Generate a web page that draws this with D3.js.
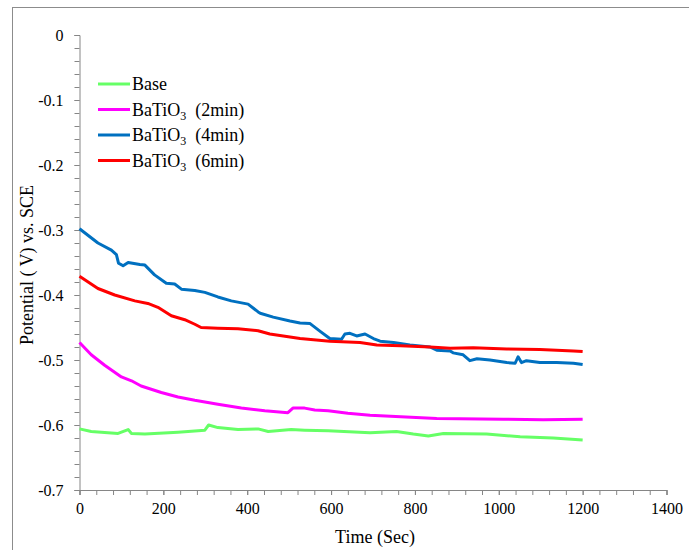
<!DOCTYPE html>
<html><head><meta charset="utf-8">
<script src="https://cdn.jsdelivr.net/npm/d3@7"></script>
<style>body{margin:0;background:#fff}svg{display:block}text{font-family:"Liberation Serif","Times New Roman",serif;fill:#000}</style>
</head><body><svg id="c" width="689" height="550"></svg>
<script>
const seriesNames = ["Base", "BaTiO3 (2min)", "BaTiO3 (4min)", "BaTiO3 (6min)"];
const seriesColors = ["#66ff66", "#ff00ff", "#0070c0", "#ff0000"];
const xTicks = [0, 200, 400, 600, 800, 1000, 1200, 1400];
const yTicks = [0, -0.1, -0.2, -0.3, -0.4, -0.5, -0.6, -0.7];
const baseData = [[0,-0.606],[28,-0.610],[92,-0.613],[116,-0.607],[124,-0.613],[156,-0.614],[235,-0.611],[299,-0.608],[308,-0.600],[330,-0.604],[378,-0.607],[426,-0.606],[450,-0.610],[505,-0.607],[537,-0.608],[593,-0.609],[693,-0.612],[756,-0.610],[796,-0.614],[832,-0.617],[868,-0.613],[971,-0.614],[1051,-0.618],[1130,-0.620],[1200,-0.623]];
const min2Data = [[0,-0.473],[28,-0.492],[60,-0.508],[100,-0.526],[124,-0.532],[147,-0.540],[195,-0.550],[235,-0.557],[275,-0.562],[330,-0.568],[386,-0.574],[442,-0.578],[497,-0.581],[509,-0.574],[537,-0.574],[561,-0.577],[593,-0.578],[640,-0.582],[693,-0.585],[852,-0.590],[1011,-0.591],[1106,-0.592],[1200,-0.591]];
const min4Data = [[0,-0.298],[44,-0.320],[76,-0.331],[88,-0.338],[93,-0.351],[104,-0.355],[116,-0.350],[144,-0.353],[156,-0.354],[179,-0.369],[207,-0.382],[227,-0.383],[243,-0.391],[275,-0.393],[299,-0.396],[330,-0.403],[362,-0.409],[402,-0.414],[426,-0.426],[431,-0.428],[462,-0.434],[502,-0.440],[526,-0.443],[550,-0.444],[574,-0.456],[597,-0.467],[625,-0.468],[633,-0.460],[645,-0.459],[661,-0.463],[681,-0.460],[701,-0.467],[717,-0.471],[749,-0.473],[788,-0.477],[836,-0.480],[852,-0.485],[884,-0.486],[891,-0.489],[915,-0.492],[931,-0.501],[948,-0.498],[979,-0.500],[1019,-0.504],[1039,-0.505],[1046,-0.495],[1054,-0.504],[1066,-0.501],[1098,-0.504],[1138,-0.504],[1178,-0.505],[1200,-0.507]];
const min6Data = [[0,-0.371],[44,-0.390],[84,-0.400],[132,-0.409],[163,-0.413],[187,-0.419],[219,-0.432],[251,-0.438],[275,-0.445],[290,-0.450],[330,-0.451],[378,-0.452],[426,-0.455],[454,-0.460],[526,-0.467],[597,-0.471],[669,-0.473],[709,-0.477],[765,-0.478],[836,-0.480],[884,-0.482],[939,-0.481],[1019,-0.483],[1098,-0.484],[1178,-0.486],[1200,-0.487]];
const allData = [baseData, min2Data, min4Data, min6Data];

const svg = d3.select("#c");
const axisColor = "#868686";
const FONT = "Liberation Serif";
svg.append("rect").attr("x",12.5).attr("y",7.5).attr("width",720).attr("height",600)
  .attr("fill","none").attr("stroke","#8c8c8c").attr("stroke-width",1);

const x = d3.scaleLinear().domain([0,1400]).range([79.5,666.5]);
const y = d3.scaleLinear().domain([-0.7,0]).range([490,35]);

// minor ticks + axis lines
const gx = svg.append("g").attr("transform","translate(0,490)");
gx.call(d3.axisBottom(x).tickValues(d3.range(0,1401,40)).tickSize(5).tickFormat(""));
const gy = svg.append("g").attr("transform","translate(79.5,0)");
gy.call(d3.axisLeft(y).tickValues(d3.range(0,36).map(i=>-i*0.02)).tickSize(5).tickFormat(""));
[gx,gy].forEach(g=>{g.selectAll("path,line").attr("stroke",axisColor);});

// major tick labels
const gxl = svg.append("g").attr("transform","translate(0,490)")
  .call(d3.axisBottom(x).tickValues(xTicks).tickSize(5).tickPadding(8).tickFormat(d=>String(d)));
gxl.select(".domain").remove();
gxl.selectAll("line").attr("stroke",axisColor);
gxl.selectAll("text").style("font-size","16px").style("font-family",FONT).attr("fill","#000");
const gyl = svg.append("g").attr("transform","translate(79.5,0)")
  .call(d3.axisLeft(y).tickValues(yTicks).tickSize(5).tickPadding(11).tickFormat(d=> d===0?"0":d.toFixed(1)));
gyl.select(".domain").remove();
gyl.selectAll("line").attr("stroke",axisColor);
gyl.selectAll("text").style("font-size","16px").style("font-family",FONT).attr("fill","#000");

// lines
const line = d3.line().x(d=>x(d[0])).y(d=>y(d[1]));
allData.forEach((data,i)=>{
  svg.append("path").datum(data).attr("d",line).attr("fill","none")
    .attr("stroke",seriesColors[i]).attr("stroke-width",3).attr("stroke-linejoin","round");
});

// legend
const legY = [84, 109.5, 135, 160.5];
seriesNames.forEach((name,i)=>{
  const g = svg.append("g");
  g.append("line").attr("x1",98).attr("x2",130).attr("y1",legY[i]).attr("y2",legY[i])
    .attr("stroke",seriesColors[i]).attr("stroke-width",3);
  const t = g.append("text").attr("x",132).attr("y",legY[i]+6).style("font-size","18px");
  if (name.startsWith("BaTiO3")) {
    t.append("tspan").text("BaTiO");
    t.append("tspan").text("3").attr("dy",4).style("font-size","12px");
    t.append("tspan").text("\u00a0 "+name.slice(6).trim()).attr("dy",-4);
  } else t.text(name);
});

// axis titles
svg.append("text").attr("x",375).attr("y",543).attr("text-anchor","middle").style("font-size","18px").text("Time (Sec)");
svg.append("text").attr("transform","translate(33,265) rotate(-90)").attr("text-anchor","middle").style("font-size","18px").text("Potential ( V) vs. SCE");
</script></body></html>
